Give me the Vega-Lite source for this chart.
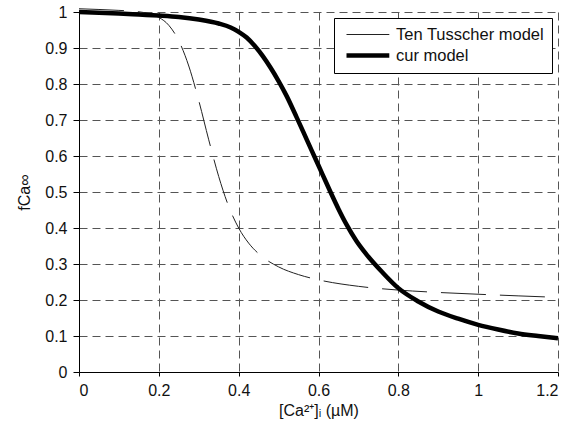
{
  "$schema": "https://vega.github.io/schema/vega-lite/v6.json",
  "width": 479,
  "height": 360,
  "autosize": {"type": "none"},
  "padding": {"left": 79, "top": 12, "right": 23, "bottom": 62},
  "background": "white",
  "config": {
    "view": {"stroke": null},
    "font": "Liberation Sans",
    "axis": {
      "labelFont": "Liberation Sans",
      "titleFont": "Liberation Sans",
      "labelFontSize": 16,
      "titleFontSize": 16,
      "labelColor": "#111",
      "titleColor": "#111",
      "titleFontWeight": "normal",
      "domainColor": "#000",
      "tickColor": "#000",
      "tickSize": 5,
      "gridColor": "#555",
      "gridDash": [8, 5],
      "gridOpacity": 1,
      "gridWidth": 1
    }
  },
  "data": {
    "values": [
      {"model": "Ten Tusscher model", "x": 0, "y": 1.009},
      {"model": "Ten Tusscher model", "x": 0.05, "y": 1.007},
      {"model": "Ten Tusscher model", "x": 0.1, "y": 1.0045},
      {"model": "Ten Tusscher model", "x": 0.15, "y": 1.0006},
      {"model": "Ten Tusscher model", "x": 0.2, "y": 0.985},
      {"model": "Ten Tusscher model", "x": 0.225, "y": 0.963},
      {"model": "Ten Tusscher model", "x": 0.25, "y": 0.92},
      {"model": "Ten Tusscher model", "x": 0.275, "y": 0.85},
      {"model": "Ten Tusscher model", "x": 0.3, "y": 0.754},
      {"model": "Ten Tusscher model", "x": 0.325, "y": 0.645},
      {"model": "Ten Tusscher model", "x": 0.35, "y": 0.543},
      {"model": "Ten Tusscher model", "x": 0.375, "y": 0.46},
      {"model": "Ten Tusscher model", "x": 0.4, "y": 0.4},
      {"model": "Ten Tusscher model", "x": 0.425, "y": 0.358},
      {"model": "Ten Tusscher model", "x": 0.45, "y": 0.3285},
      {"model": "Ten Tusscher model", "x": 0.5, "y": 0.292},
      {"model": "Ten Tusscher model", "x": 0.55, "y": 0.2705},
      {"model": "Ten Tusscher model", "x": 0.6, "y": 0.256},
      {"model": "Ten Tusscher model", "x": 0.7, "y": 0.238},
      {"model": "Ten Tusscher model", "x": 0.8, "y": 0.2276},
      {"model": "Ten Tusscher model", "x": 0.9, "y": 0.221},
      {"model": "Ten Tusscher model", "x": 1.0, "y": 0.216},
      {"model": "Ten Tusscher model", "x": 1.1, "y": 0.2115},
      {"model": "Ten Tusscher model", "x": 1.2, "y": 0.2073},
      {"model": "cur model", "x": 0, "y": 1.0},
      {"model": "cur model", "x": 0.05, "y": 0.998},
      {"model": "cur model", "x": 0.1, "y": 0.996},
      {"model": "cur model", "x": 0.15, "y": 0.993},
      {"model": "cur model", "x": 0.2, "y": 0.99},
      {"model": "cur model", "x": 0.25, "y": 0.986},
      {"model": "cur model", "x": 0.3, "y": 0.979},
      {"model": "cur model", "x": 0.35, "y": 0.968},
      {"model": "cur model", "x": 0.38, "y": 0.957},
      {"model": "cur model", "x": 0.4, "y": 0.945},
      {"model": "cur model", "x": 0.42, "y": 0.929},
      {"model": "cur model", "x": 0.44, "y": 0.906},
      {"model": "cur model", "x": 0.46, "y": 0.878},
      {"model": "cur model", "x": 0.48, "y": 0.845},
      {"model": "cur model", "x": 0.5, "y": 0.808},
      {"model": "cur model", "x": 0.52, "y": 0.767},
      {"model": "cur model", "x": 0.545, "y": 0.708},
      {"model": "cur model", "x": 0.57, "y": 0.647},
      {"model": "cur model", "x": 0.59, "y": 0.598},
      {"model": "cur model", "x": 0.61, "y": 0.549},
      {"model": "cur model", "x": 0.63, "y": 0.5},
      {"model": "cur model", "x": 0.65, "y": 0.453},
      {"model": "cur model", "x": 0.67, "y": 0.41},
      {"model": "cur model", "x": 0.695, "y": 0.364},
      {"model": "cur model", "x": 0.72, "y": 0.327},
      {"model": "cur model", "x": 0.76, "y": 0.277},
      {"model": "cur model", "x": 0.8, "y": 0.233},
      {"model": "cur model", "x": 0.85, "y": 0.196},
      {"model": "cur model", "x": 0.9, "y": 0.168},
      {"model": "cur model", "x": 0.95, "y": 0.148},
      {"model": "cur model", "x": 1.0, "y": 0.131},
      {"model": "cur model", "x": 1.05, "y": 0.118},
      {"model": "cur model", "x": 1.1, "y": 0.107},
      {"model": "cur model", "x": 1.15, "y": 0.1},
      {"model": "cur model", "x": 1.2, "y": 0.094}
    ]
  },
  "encoding": {
    "x": {
      "field": "x", "type": "quantitative",
      "scale": {"domain": [0, 1.2], "nice": false, "zero": false},
      "axis": {"values": [0, 0.2, 0.4, 0.6, 0.8, 1, 1.2], "format": "~g", "grid": true, "title": "[Ca²⁺]ᵢ (µM)", "titlePadding": 4, "labelPadding": 6, "tickSize": 4}
    },
    "y": {
      "field": "y", "type": "quantitative",
      "scale": {"domain": [0, 1], "nice": false, "zero": false},
      "axis": {"values": [0, 0.1, 0.2, 0.3, 0.4, 0.5, 0.6, 0.7, 0.8, 0.9, 1], "format": "~g", "grid": true, "title": "fCa∞", "titlePadding": 12, "labelPadding": 6, "tickSize": 6}
    },
    "color": {
      "field": "model", "type": "nominal",
      "scale": {"domain": ["Ten Tusscher model", "cur model"], "range": ["#222222", "#000000"]},
      "legend": {
        "title": null,
        "orient": "top-right",
        "offset": 6,
        "strokeColor": "#000",
        "fillColor": "white",
        "padding": 8,
        "symbolType": "M-0.75,0H4.6",
        "symbolSize": 256,
        "labelFont": "Liberation Sans",
        "labelFontSize": 16.5,
        "labelColor": "#111",
        "rowPadding": 2,
        "labelOffset": 33
      }
    },
    "strokeWidth": {
      "field": "model", "type": "nominal",
      "scale": {"domain": ["Ten Tusscher model", "cur model"], "range": [1, 4.5]},
      "legend": {"title": null}
    }
  },
  "layer": [
    {
      "transform": [{"filter": "datum.model === 'Ten Tusscher model'"}],
      "mark": {"type": "line", "strokeDash": [45, 14], "clip": false, "interpolate": "monotone"}
    },
    {
      "transform": [{"filter": "datum.model === 'cur model'"}],
      "mark": {"type": "line", "clip": false, "interpolate": "monotone"}
    }
  ]
}
